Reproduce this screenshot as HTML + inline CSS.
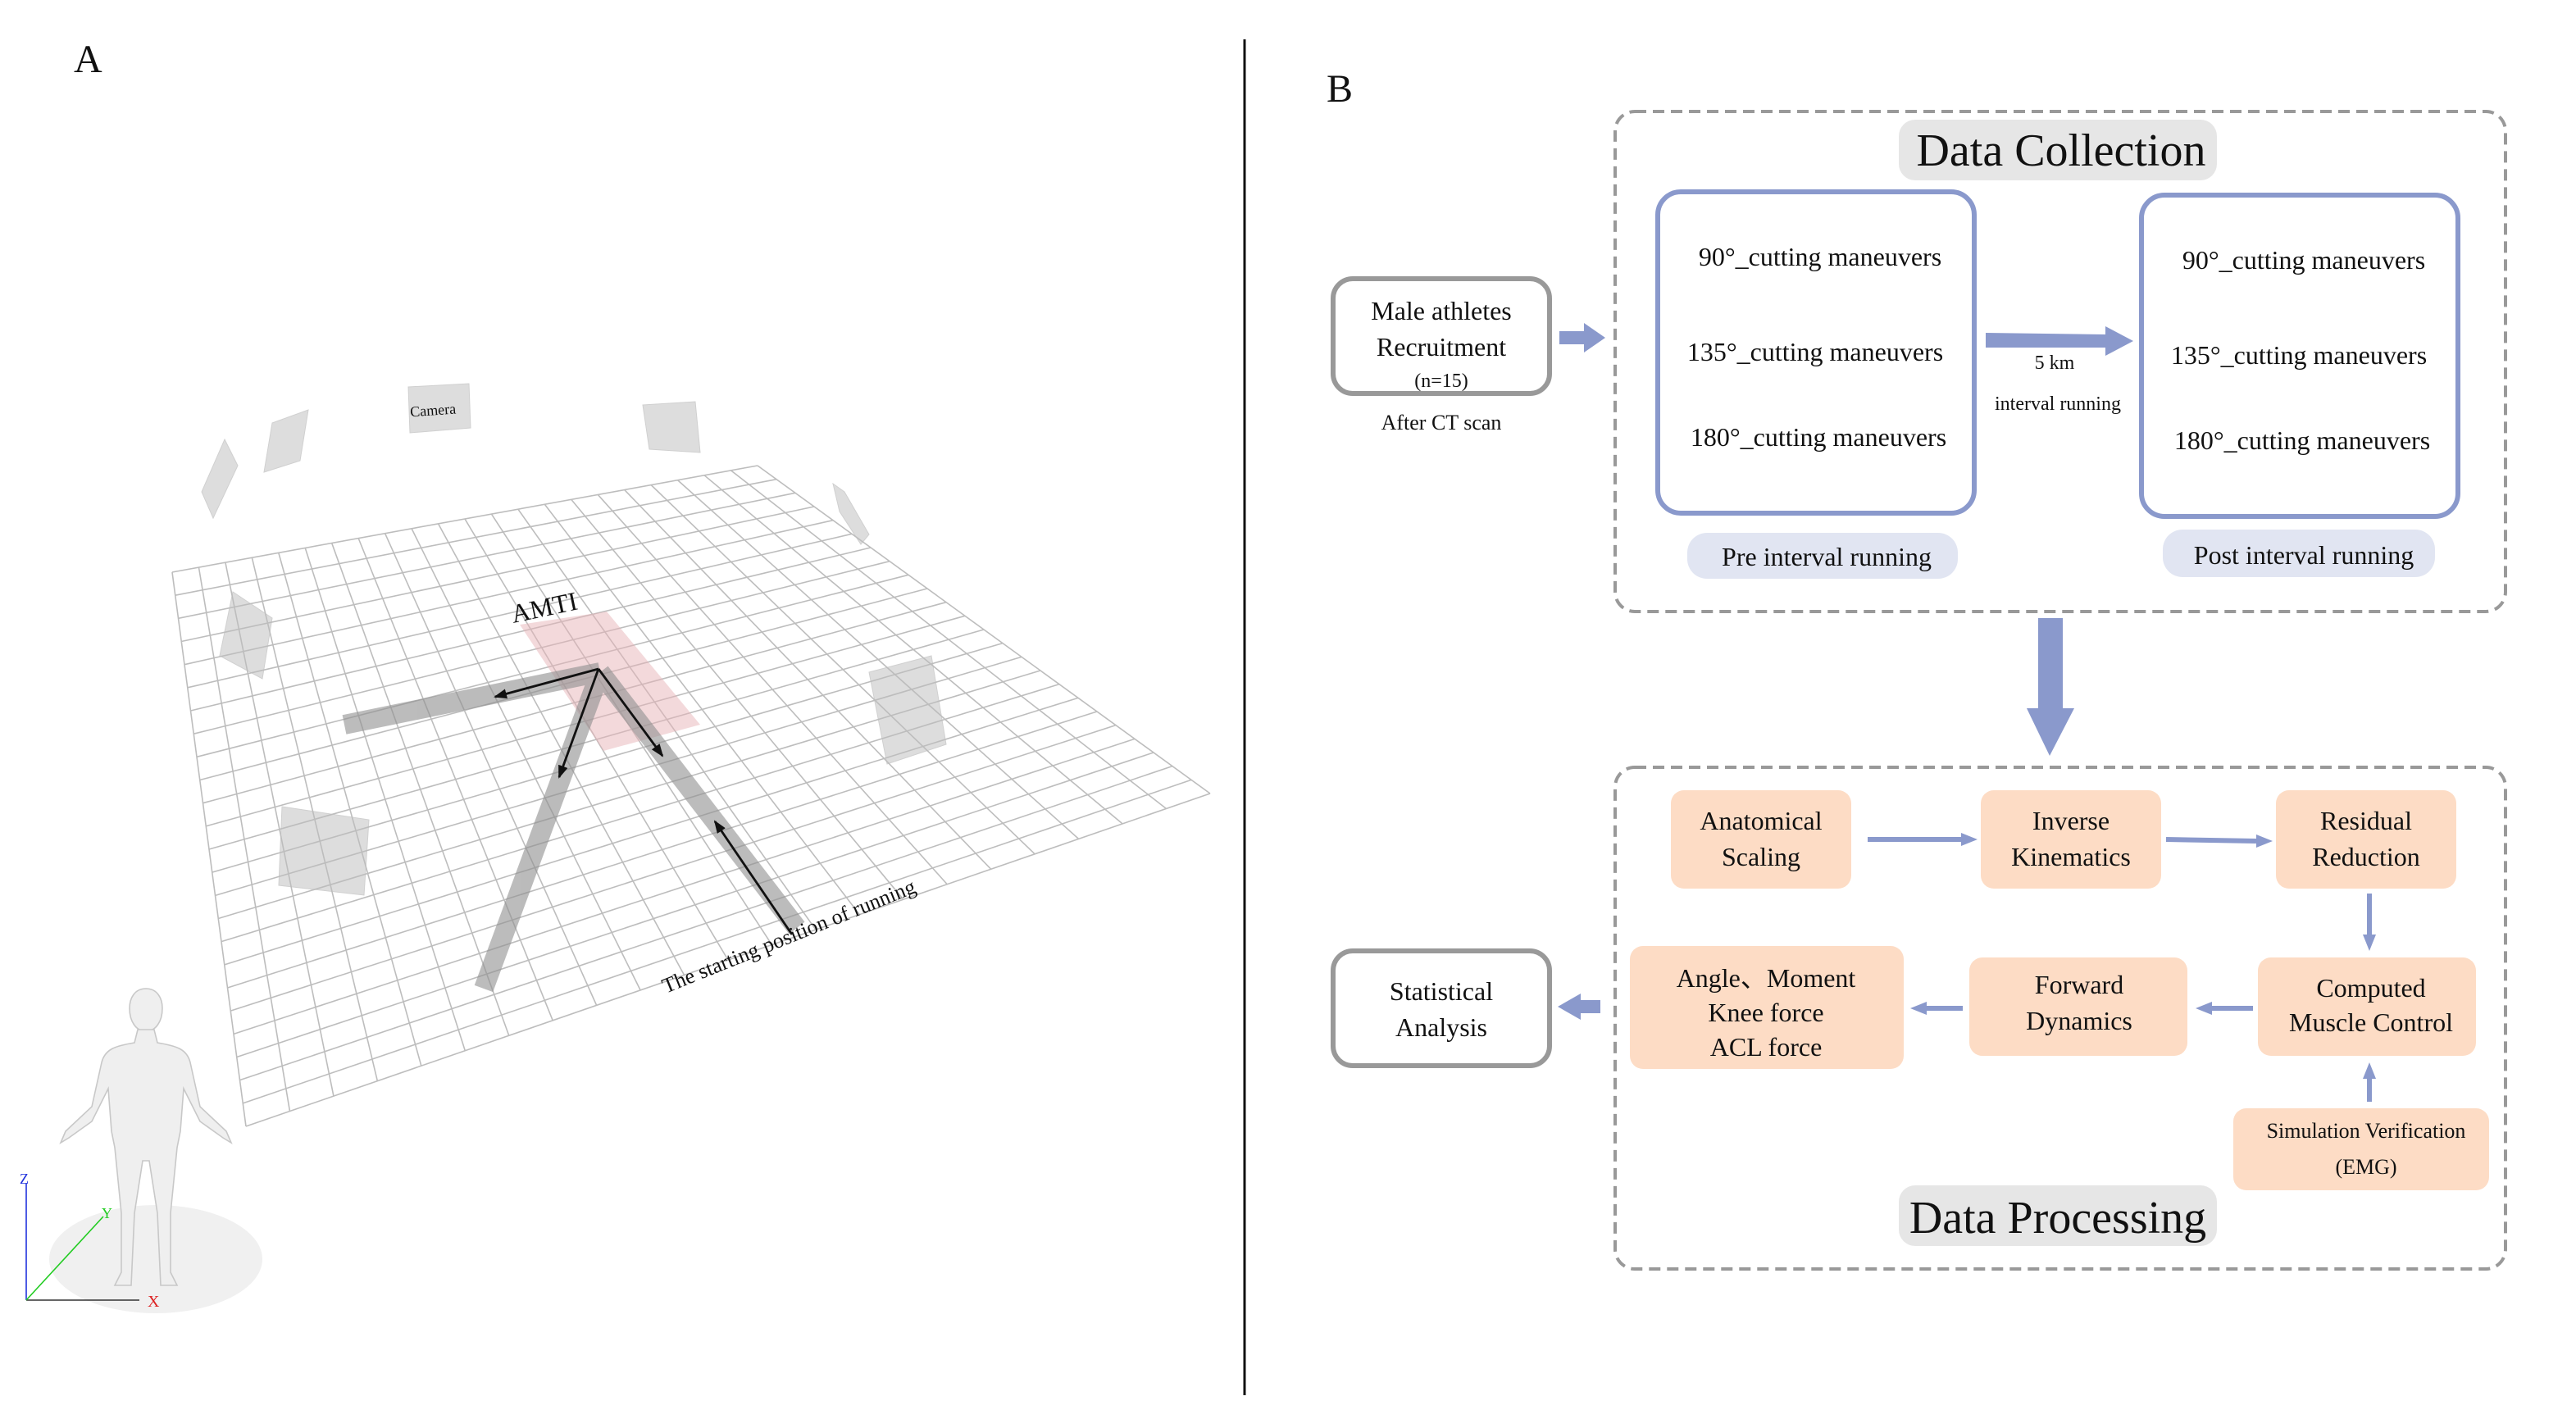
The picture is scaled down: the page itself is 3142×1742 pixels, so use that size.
<!DOCTYPE html>
<html><head><meta charset="utf-8"><style>
html,body{margin:0;padding:0;background:#fff;}
svg{display:block;}
text{font-family:"Liberation Serif",serif;fill:#111;}
</style></head><body>
<svg id="s" width="3142" height="1742" viewBox="0 0 1571 871" xmlns="http://www.w3.org/2000/svg">
<defs>
<marker id="ah" markerWidth="8" markerHeight="8" refX="7" refY="4" orient="auto" markerUnits="userSpaceOnUse"><path d="M0,1 L8,4 L0,7 z" fill="#111"/></marker>
</defs>
<text x="45" y="44" font-size="24">A</text>
<line x1="759" y1="24" x2="759" y2="851" stroke="#111" stroke-width="1.5"/>

<!-- cameras -->
<g fill="#ddd" stroke="#d0d0d0" stroke-width="0.5">
<polygon points="137,268 145,284 130,316 123,300"/>
<polygon points="166,258 188,250 183,281 161,288"/>
<polygon points="249,236 286,234 287,261 250,264"/>
<polygon points="392,247 424,245 427,276 396,274"/>
<polygon points="508,295 515,300 530,326 525,332 512,312"/>
<polygon points="142,361 166,377 160,414 134,400"/>
<polygon points="530,410 568,400 577,454 541,466"/>
<polygon points="172,492 225,500 222,546 170,540"/>
</g>
<text x="250" y="253" font-size="9" transform="rotate(-4 267 249)">Camera</text>

<g id="grid" stroke="#bdbdbd" stroke-width="0.8" fill="none"></g>

<!-- pink plate -->
<polygon points="317,381 370,373 427,442 368,458" fill="#e8b4b8" opacity="0.5"/>
<!-- bands -->
<g stroke="#8f8f8f" stroke-width="12" opacity="0.6" fill="none">
<line x1="210" y1="442" x2="366" y2="410"/>
<line x1="366" y1="410" x2="295" y2="603"/>
<line x1="366" y1="410" x2="486" y2="566"/>
</g>
<g stroke="#111" stroke-width="1.4" fill="none">
<line x1="365" y1="408" x2="302" y2="425" marker-end="url(#ah)"/>
<line x1="365" y1="408" x2="341" y2="474" marker-end="url(#ah)"/>
<line x1="365" y1="408" x2="404" y2="461" marker-end="url(#ah)"/>
<line x1="483" y1="570" x2="436" y2="501" marker-end="url(#ah)"/>
</g>
<text x="313" y="380" font-size="16" transform="rotate(-12 313 380)">AMTI</text>
<text x="406" y="606" font-size="13" transform="rotate(-22 406 606)">The starting position of running</text>

<!-- human -->
<ellipse cx="95" cy="768" rx="65" ry="33" fill="#f0f0f0"/>
<g fill="#efefef" stroke="#c8c8c8" stroke-width="0.8">
<path d="M89,603 c7,0 10,6 10,12 c0,8 -4,14 -10,14 c-6,0 -10,-6 -10,-14 c0,-6 3,-12 10,-12z"/>
<path d="M84,628 L94,628 L96,636 C108,638 114,640 116,648 L122,675 L138,690 L141,697 L136,694 L122,684 L112,664 L110,690 L108,700 L104,740 L104,776 L108,784 L98,784 L96,740 L91,708 L87,708 L82,740 L80,784 L70,784 L74,776 L74,740 L70,700 L68,690 L66,664 L56,684 L42,694 L37,697 L40,690 L56,675 L62,648 C64,640 70,638 82,636z"/>
</g>
<line x1="16" y1="793" x2="16" y2="722" stroke="#2233dd" stroke-width="0.8"/>
<line x1="16" y1="793" x2="85" y2="793" stroke="#333" stroke-width="0.8"/>
<line x1="16" y1="793" x2="63" y2="742" stroke="#22cc22" stroke-width="0.8"/>
<text x="12" y="722" font-size="9" style="fill:#2233dd">Z</text>
<text x="62" y="743" font-size="9" style="fill:#22cc22">Y</text>
<text x="90" y="797" font-size="10" style="fill:#dd2222">X</text>

<!-- Panel B -->
<text x="809" y="62" font-size="24">B</text>
<rect x="985" y="68" width="543" height="305" rx="12" fill="none" stroke="#999" stroke-width="2" stroke-dasharray="7,4"/>
<rect x="1158" y="73" width="194" height="37" rx="10" fill="#e6e6e6"/>
<text x="1257" y="101" font-size="28" text-anchor="middle">Data Collection</text>
<rect x="1011" y="117" width="193" height="196" rx="14" fill="#fff" stroke="#8a99cc" stroke-width="3"/>
<rect x="1306" y="119" width="193" height="196" rx="14" fill="#fff" stroke="#8a99cc" stroke-width="3"/>
<g font-size="16" text-anchor="middle">
<text x="1110" y="162">90°_cutting maneuvers</text>
<text x="1107" y="220">135°_cutting maneuvers</text>
<text x="1109" y="272">180°_cutting maneuvers</text>
<text x="1405" y="164">90°_cutting maneuvers</text>
<text x="1402" y="222">135°_cutting maneuvers</text>
<text x="1404" y="274">180°_cutting maneuvers</text>
</g>
<polygon points="1211,203 1284,204 1284,199 1301,208 1284,217 1284,212 1211,212" fill="#8a99cc"/>
<text x="1253" y="225" font-size="12" text-anchor="middle">5 km</text>
<text x="1255" y="250" font-size="12" text-anchor="middle">interval running</text>
<rect x="1029" y="325" width="165" height="28" rx="12" fill="#e1e5f2"/>
<text x="1114" y="345" font-size="16" text-anchor="middle">Pre interval running</text>
<rect x="1319" y="323" width="166" height="29" rx="12" fill="#e1e5f2"/>
<text x="1405" y="344" font-size="16" text-anchor="middle">Post interval running</text>

<rect x="813" y="170" width="132" height="70" rx="12" fill="#fff" stroke="#999" stroke-width="3"/>
<text x="879" y="195" font-size="16" text-anchor="middle">Male athletes</text>
<text x="879" y="217" font-size="16" text-anchor="middle">Recruitment</text>
<text x="879" y="236" font-size="12" text-anchor="middle">(n=15)</text>
<text x="879" y="262" font-size="13" text-anchor="middle">After CT scan</text>
<polygon points="951,202 966,202 966,197 979,206 966,215 966,210 951,210" fill="#8a99cc"/>

<polygon points="1243,377 1258,377 1258,432 1265,432 1250,461 1236,432 1243,432" fill="#8a99cc"/>

<rect x="985" y="468" width="543" height="306" rx="12" fill="none" stroke="#999" stroke-width="2" stroke-dasharray="7,4"/>
<g fill="#fddcc5">
<rect x="1019" y="482" width="110" height="60" rx="8"/>
<rect x="1208" y="482" width="110" height="60" rx="8"/>
<rect x="1388" y="482" width="110" height="60" rx="8"/>
<rect x="1377" y="584" width="133" height="60" rx="8"/>
<rect x="1201" y="584" width="133" height="60" rx="8"/>
<rect x="994" y="577" width="167" height="75" rx="8"/>
<rect x="1362" y="676" width="156" height="50" rx="8"/>
</g>
<g font-size="16" text-anchor="middle">
<text x="1074" y="506">Anatomical</text><text x="1074" y="528">Scaling</text>
<text x="1263" y="506">Inverse</text><text x="1263" y="528">Kinematics</text>
<text x="1443" y="506">Residual</text><text x="1443" y="528">Reduction</text>
<text x="1446" y="608">Computed</text><text x="1446" y="629">Muscle Control</text>
<text x="1268" y="606">Forward</text><text x="1268" y="628">Dynamics</text>
<text x="1077" y="602">Angle、Moment</text><text x="1077" y="623">Knee force</text><text x="1077" y="644">ACL force</text>
<text x="879" y="610">Statistical</text><text x="879" y="632">Analysis</text>
</g>
<text x="1443" y="694" font-size="13" text-anchor="middle">Simulation Verification</text>
<text x="1443" y="716" font-size="13" text-anchor="middle">(EMG)</text>
<rect x="813" y="580" width="132" height="70" rx="12" fill="#fff" stroke="#999" stroke-width="3" style="fill-opacity:0"/>
<g stroke="#8a99cc" stroke-width="3" fill="#8a99cc">
<line x1="1139" y1="512" x2="1196" y2="512"/><polygon points="1196,508 1206,512 1196,516" stroke="none"/>
<line x1="1321" y1="512" x2="1376" y2="513"/><polygon points="1376,509 1386,513 1376,517" stroke="none"/>
<line x1="1445" y1="545" x2="1445" y2="570"/><polygon points="1441,570 1445,580 1449,570" stroke="none"/>
<line x1="1374" y1="615" x2="1348" y2="615"/><polygon points="1349,611 1339,615 1349,619" stroke="none"/>
<line x1="1197" y1="615" x2="1174" y2="615"/><polygon points="1175,611 1165,615 1175,619" stroke="none"/>
<line x1="1445" y1="672" x2="1445" y2="658"/><polygon points="1441,658 1445,648 1449,658" stroke="none"/>
</g>
<polygon points="976,610 964,610 964,606 950,614 964,622 964,618 976,618" fill="#8a99cc"/>
<rect x="1158" y="723" width="194" height="37" rx="10" fill="#e6e6e6"/>
<text x="1255" y="752" font-size="28" text-anchor="middle">Data Processing</text>
</svg>
<script>
(function(){
var g=document.getElementById('grid');
var TL=[105,349],TR=[462,284],BR=[738,484],BL=[150,687];
function P(u,v){var x=(1-u)*(1-v)*TL[0]+u*(1-v)*TR[0]+u*v*BR[0]+(1-u)*v*BL[0];
var y=(1-u)*(1-v)*TL[1]+u*(1-v)*TR[1]+u*v*BR[1]+(1-u)*v*BL[1];return [x,y];}
var NU=22,NV=24,h='';
for(var i=0;i<=NU;i++){var a=P(i/NU,0),b=P(i/NU,1);h+='<line x1="'+a[0]+'" y1="'+a[1]+'" x2="'+b[0]+'" y2="'+b[1]+'"/>';}
for(var j=0;j<=NV;j++){var a=P(0,j/NV),b=P(1,j/NV);h+='<line x1="'+a[0]+'" y1="'+a[1]+'" x2="'+b[0]+'" y2="'+b[1]+'"/>';}
g.innerHTML=h;
})();
</script>
</body></html>
